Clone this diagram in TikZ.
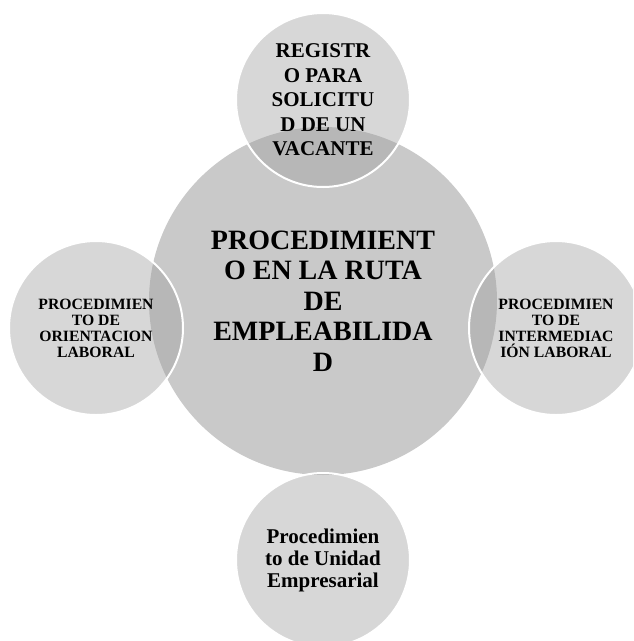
\documentclass[tikz,border=0pt]{standalone}
\usepackage{fontspec}
\setmainfont{Liberation Serif}
\begin{document}
\begin{tikzpicture}[x=1pt,y=-1pt,
  maincircle/.style={circle,fill=mainfill,draw=none,minimum size=348pt,inner sep=0pt},
  satcircle/.style={circle,fill=satfill,fill opacity=0.42,draw=white,draw opacity=1,line width=2pt,minimum size=174pt,inner sep=0pt},
  bigtext/.style={align=center,font=\fontsize{28}{30.5}\selectfont\bfseries,text=black},
  toptext/.style={align=center,font=\fontsize{21}{24.5}\selectfont\bfseries,text=black},
  sidetext/.style={align=center,font=\fontsize{15.7}{16}\selectfont\bfseries,text=black},
  bottext/.style={align=center,font=\fontsize{21}{22}\selectfont\bfseries,text=black}]
\definecolor{mainfill}{RGB}{201,201,201}
\definecolor{satfill}{RGB}{160,160,160}
\useasboundingbox (0,0) rectangle (633,641);
\begin{scope}
\clip (0,0) rectangle (633,641);
\node[maincircle] (main) at (323,301) {};
\node[satcircle] (top) at (323,100) {};
\node[satcircle] (left) at (96,328) {};
\node[satcircle] (right) at (556,328) {};
\node[satcircle] (bottom) at (323,560) {};
\end{scope}
\node[bigtext] (maint) at (main.center) {PROCEDIMIENT\\O EN LA RUTA\\DE\\EMPLEABILIDA\\D};
\node[toptext] (topt) at (top.center) {REGISTR\\O PARA\\SOLICITU\\D DE UN\\VACANTE};
\node[sidetext] (leftt) at (left.center) {PROCEDIMIEN\\TO DE\\ORIENTACION\\LABORAL};
\node[sidetext] (rightt) at (right.center) {PROCEDIMIEN\\TO DE\\INTERMEDIAC\\IÓN LABORAL};
\node[bottext] (bott) at (bottom.center) {Procedimien\\to de Unidad\\Empresarial};
\end{tikzpicture}
\end{document}
